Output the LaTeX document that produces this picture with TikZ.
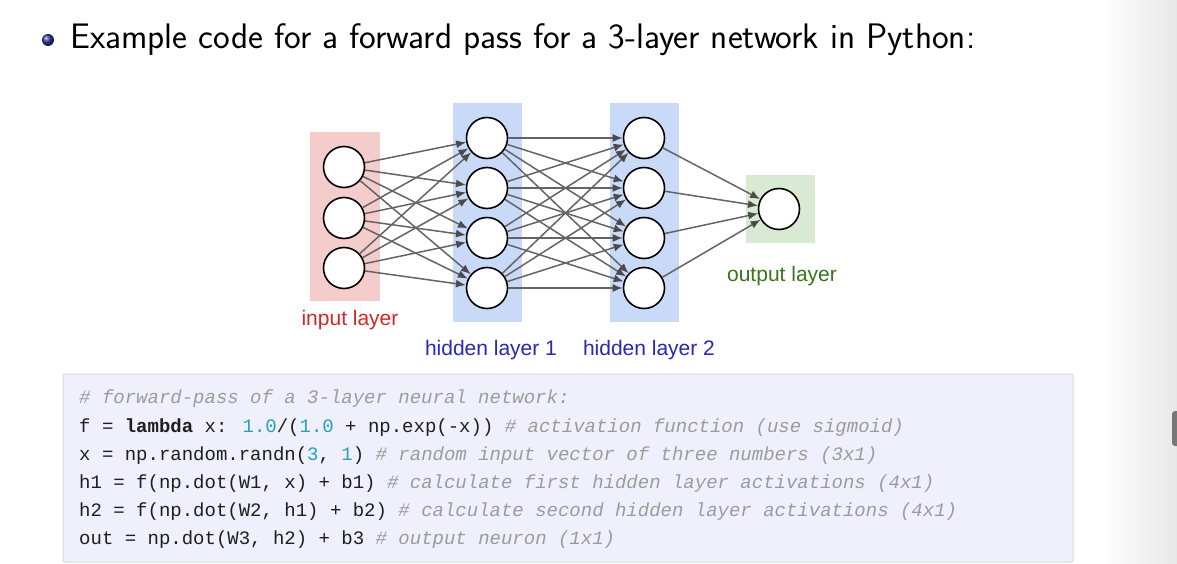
\documentclass[tikz,border=0pt]{standalone}
\usepackage{fontspec}
\usepackage{graphicx}
\newfontfamily\arialf{Liberation Sans}
\newfontfamily\monof{Liberation Mono}
\usetikzlibrary{arrows.meta,shadings}
\definecolor{inpink}{RGB}{244,204,204}
\definecolor{hidblue}{RGB}{201,218,248}
\definecolor{outgreen}{RGB}{217,234,211}
\definecolor{inred}{RGB}{210,40,40}
\definecolor{hidtxt}{RGB}{40,40,180}
\definecolor{outtxt}{RGB}{56,118,29}
\definecolor{edgegray}{RGB}{100,100,100}
\definecolor{arrowgray}{RGB}{75,75,75}
\definecolor{codebg}{RGB}{240,240,252}
\definecolor{codeborder}{RGB}{216,216,234}
\definecolor{comgray}{RGB}{155,155,155}
\definecolor{numteal}{RGB}{40,160,185}
\definecolor{codetxt}{RGB}{30,30,30}
\definecolor{ballblue}{RGB}{50,50,150}
\definecolor{scrollgray}{RGB}{120,120,120}
\newcommand{\cmt}[1]{{\itshape\color{comgray}#1}}
\newcommand{\num}[1]{{\color{numteal}#1}}
\begin{document}
\begin{tikzpicture}[x=1pt,y=-1pt,
 neuron/.style={circle,draw=black,line width=1.6pt,fill=white,minimum size=41pt,inner sep=0pt},
 layerbox/.style={inner sep=0pt,draw=none,rectangle},
 conn/.style={draw=edgegray,line width=1.5pt,-{Latex[length=10pt,width=8pt,color=arrowgray]}},
 lbl/.style={font=\arialf\fontsize{21}{24}\selectfont,inner sep=0pt},
 codeline/.style={anchor=base west,inner sep=0pt,font=\monof\fontsize{19}{22}\selectfont,text=codetxt},
]
\useasboundingbox (0,0) rectangle (1177,564);
\fill[white] (0,0) rectangle (1177,564);
\shade[left color=white,right color=black!9] (1100,0) rectangle (1177,564);
\fill[scrollgray,rounded corners=3pt] (1172,411) rectangle (1184,446);

% title
\node[circle,minimum size=12pt,inner sep=0pt,shading=ball,ball color=ballblue] (bullet) at (48,40) {};
\node[anchor=base west,inner sep=0pt,font=\sffamily\fontsize{28}{32}\selectfont] (title) at (70,49)
  {\resizebox{905pt}{!}{Example code for a forward pass for a 3-layer network in Python:}};

% layer backgrounds
\node[layerbox,fill=inpink,minimum width=70pt,minimum height=169pt] (inbg) at (345,216.5) {};
\node[layerbox,fill=hidblue,minimum width=69pt,minimum height=219pt] (habg) at (487.5,212.5) {};
\node[layerbox,fill=hidblue,minimum width=69pt,minimum height=219pt] (hbbg) at (644.5,212.5) {};
\node[layerbox,fill=outgreen,minimum width=69pt,minimum height=68pt] (obg) at (780.5,209) {};

% neurons
\node[neuron] (i1) at (344,167) {};
\node[neuron] (i2) at (344,218) {};
\node[neuron] (i3) at (344,268) {};
\node[neuron] (ha1) at (487,138) {};
\node[neuron] (ha2) at (487,188) {};
\node[neuron] (ha3) at (487,238) {};
\node[neuron] (ha4) at (487,288) {};
\node[neuron] (hb1) at (644,138) {};
\node[neuron] (hb2) at (644,188) {};
\node[neuron] (hb3) at (644,238) {};
\node[neuron] (hb4) at (644,288) {};
\node[neuron] (o) at (779,209) {};

% connections
\foreach \i in {1,2,3} \foreach \j in {1,2,3,4} \draw[conn] (i\i) -- (ha\j);
\foreach \i in {1,2,3,4} \foreach \j in {1,2,3,4} \draw[conn] (ha\i) -- (hb\j);
\foreach \i in {1,2,3,4} \draw[conn] (hb\i) -- (o);

% labels
\node[lbl,text=inred] (lin) at (350,320) {input layer};
\node[lbl,text=hidtxt] (lha) at (491,350) {hidden layer 1};
\node[lbl,text=hidtxt] (lhb) at (649,350) {hidden layer 2};
\node[lbl,text=outtxt] (lout) at (782,276) {output layer};

% code box
\node[draw=codeborder,line width=1pt,fill=codebg,rounded corners=2pt,minimum width=1010pt,minimum height=188pt,inner sep=0pt] (codebox) at (568,468) {};
\node[codeline] (c1) at (79,403) {\cmt{\# forward-pass of a 3-layer neural network:}};
\node[codeline] (c2) at (79,432) {f = {\bfseries lambda} x: \num{1.0}/(\num{1.0} + np.exp(-x)) \cmt{\# activation function (use sigmoid)}};
\node[codeline] (c3) at (79,460) {x = np.random.randn(\num{3}, \num{1}) \cmt{\# random input vector of three numbers (3x1)}};
\node[codeline] (c4) at (79,488) {h1 = f(np.dot(W1, x) + b1) \cmt{\# calculate first hidden layer activations (4x1)}};
\node[codeline] (c5) at (79,516) {h2 = f(np.dot(W2, h1) + b2) \cmt{\# calculate second hidden layer activations (4x1)}};
\node[codeline] (c6) at (79,544) {out = np.dot(W3, h2) + b3 \cmt{\# output neuron (1x1)}};
\end{tikzpicture}
\end{document}
